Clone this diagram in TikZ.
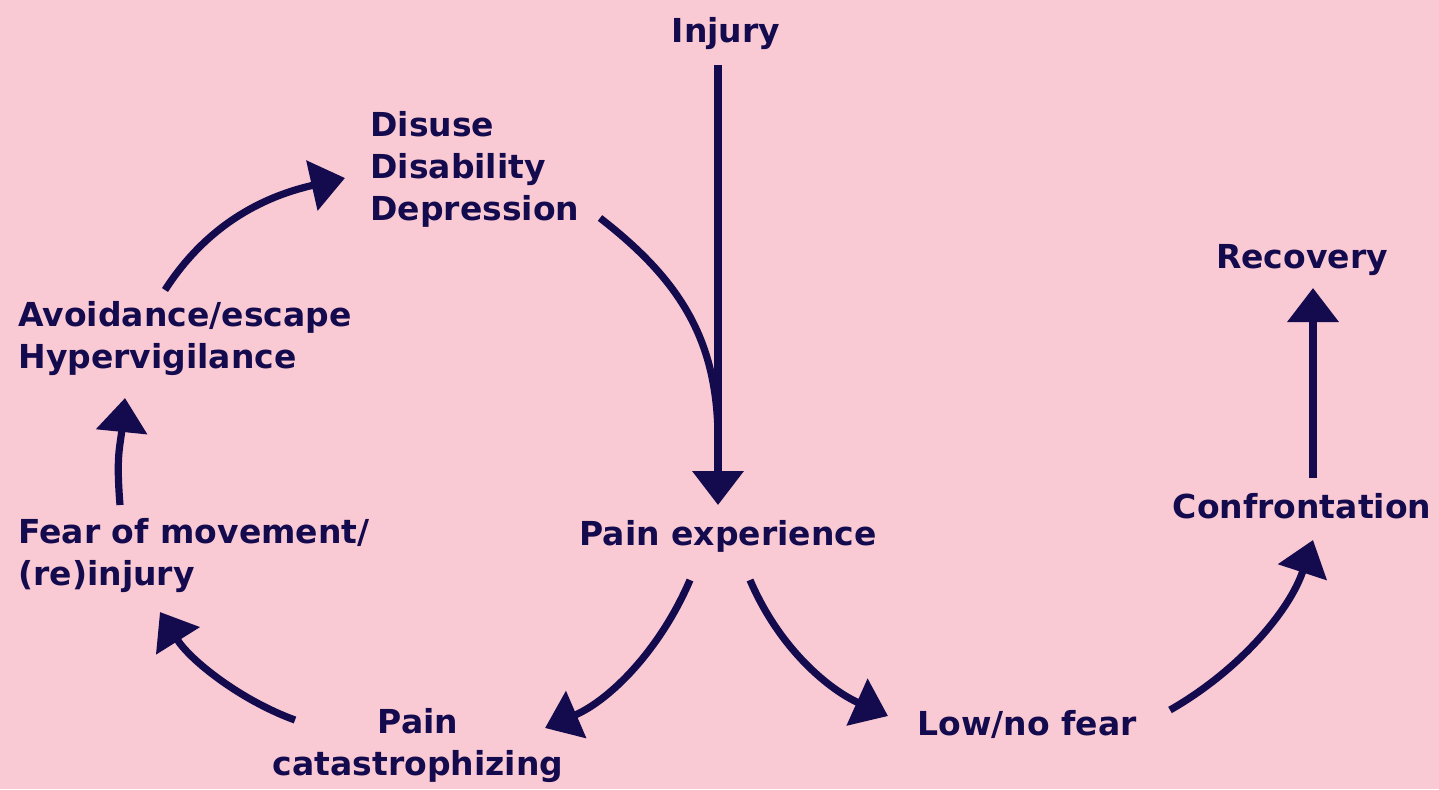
\documentclass[tikz,border=0pt]{standalone}
\usepackage{fontspec}
\setmainfont{DejaVu Sans}
\usetikzlibrary{arrows.meta,calc}
\definecolor{bg}{HTML}{F9CAD4}
\definecolor{ink}{HTML}{140A4E}
\begin{document}
\begin{tikzpicture}[x=0.5pt,y=-0.5pt,
  lbl/.style={inner sep=0pt, text=ink, font=\fontsize{16.5}{21}\selectfont\bfseries},
  conn/.style={draw=ink, line width=3.6pt},
  arr/.style={conn, -{Triangle[length=17pt,width=25pt]}}]
\fill[bg] (0,0) rectangle (1439,789);
\node[lbl,anchor=base] (inj) at (726,42) {Injury};
\node[lbl,anchor=base west,align=left] (dis) at (370,220) {Disuse\\Disability\\Depression};
\node[lbl,anchor=base west,align=left] (avo) at (18,368) {Avoidance/escape\\Hypervigilance};
\node[lbl,anchor=base west,align=left] (fear) at (18,585) {Fear of movement/\\(re)injury};
\node[lbl,anchor=base] (pe) at (728,545) {Pain experience};
\node[lbl,anchor=base,align=center] (pc) at (418,775) {Pain\\catastrophizing};
\node[lbl,anchor=base] (low) at (1027,735) {Low/no fear};
\node[lbl,anchor=base] (con) at (1302,518) {Confrontation};
\node[lbl,anchor=base] (rec) at (1302,268) {Recovery};

\draw[arr] ($(inj.base)+(-8,23)$) -- ($(pe.base)+(-10,-40)$);
\draw[conn] ($(dis.base west)+(230,-2)$) .. controls +(80,62) and +(0,-100) .. ($(pe.base)+(-10,-105)$);
\draw[arr] ($(avo.base west)+(147,-78)$) .. controls +(45,-70) and +(-75,17) .. ($(dis.base west)+(-25,-42)$);
\draw[arr] ($(fear.base west)+(102,-80)$) .. controls +(-4,-50) and +(-5,50) .. ($(avo.base west)+(107,30)$);
\draw[arr] ($(pc.base)+(-123,-55)$) .. controls +(-55,-20) and +(30,48) .. ($(fear.base west)+(142,27)$);
\draw[arr] ($(pe.base)+(-38,35)$) .. controls +(-30,70) and +(65,-28) .. ($(pc.base)+(127,-47)$);
\draw[arr] ($(pe.base)+(22,35)$) .. controls +(30,70) and +(-58,-26) .. ($(low.base)+(-139,-19)$);
\draw[arr] ($(low.base)+(143,-25)$) .. controls +(70,-40) and +(-23,70) .. ($(con.base)+(11,22)$);
\draw[arr] ($(con.base)+(11,-40)$) -- ($(rec.base)+(11,20)$);
\end{tikzpicture}
\end{document}
